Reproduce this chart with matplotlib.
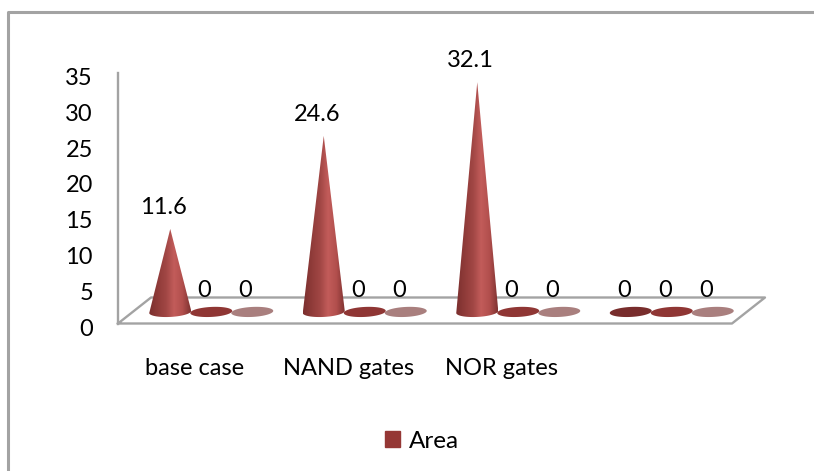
import numpy as np
import matplotlib
matplotlib.use('Agg')
import matplotlib.pyplot as plt
from matplotlib.colors import LinearSegmentedColormap
from matplotlib.lines import Line2D
from matplotlib.patches import Patch, Polygon
from matplotlib.transforms import ScaledTranslation

plt.rcParams['font.family'] = ['Lato', 'DejaVu Sans']

# The data
categories = ['base case', 'NAND gates', 'NOR gates', '']
area = [11.6, 24.6, 32.1, 0]
series_2 = [0, 0, 0, 0]
series_3 = [0, 0, 0, 0]
y_ticks = [0, 5, 10, 15, 20, 25, 30, 35]

# Colours
grey = '#a3a3a3'
legend_red = '#953735'
flat_colours = ['#782d2c', '#8f3634', '#a97f7e']
cone_map = LinearSegmentedColormap.from_list(
    'cone', ['#7b2f2e', '#8f3b39', '#a04644', '#c25c5a', '#b24f4d', '#7f3231'])

W, H = 814, 471
fig = plt.figure(figsize=(W / 100, H / 100), dpi=100)

# Front wall of the 3D box, sits on the pixel box of the original
left, right, bottom, top = 118, 732, 323.5, 73
ax = fig.add_axes([left / W, 1 - bottom / H, (right - left) / W, (bottom - top) / H])
ax.set_xlim(-0.5, 3.5)
ax.set_ylim(0, 35)
ax.patch.set_alpha(0)

px_x = 4 / (right - left)
px_y = 35 / (bottom - top)

# Floor of the box goes back this far (data units)
depth_x = 33 * px_x
depth_y = 26 * px_y
# Series spacing and cone size
step = 41 * px_x
half_w = 21 * px_x
half_h = 5 * px_y
tilt = 0.05 * (px_y / px_x)


def base_points(xc, yc, start, stop):
    t = np.linspace(start, stop, 60)
    xs = half_w * np.cos(t)
    ys = half_h * np.sin(t) + tilt * xs
    return xc + xs, yc + ys


def draw_cone(xc, yc, value):
    xs, ys = base_points(xc, yc, np.pi, 2 * np.pi)
    verts = np.column_stack([np.r_[xs, xc], np.r_[ys, yc + value]])
    clip = Polygon(verts, closed=True, transform=ax.transData, fill=False, edgecolor='none')
    ax.add_patch(clip)
    gradient = np.linspace(0, 1, 128).reshape(1, -1)
    img = ax.imshow(gradient, cmap=cone_map, aspect='auto', zorder=3,
                    extent=[xc - half_w, xc + half_w, yc - half_h * 1.2, yc + value])
    img.set_clip_path(clip)


def draw_flat(xc, yc, colour):
    xs, ys = base_points(xc, yc, 0, 2 * np.pi)
    ax.fill(xs, ys, color=colour, lw=0, zorder=3, clip_on=False)


def add_label(xc, yc, value):
    ax.annotate(f'{value:g}', (xc, yc + value), xytext=(-5, 15.5), textcoords='offset points',
                ha='center', va='center', fontsize=17, color='black', zorder=5, annotation_clip=False)


# Floor parallelogram
ax.plot([-0.5, 3.5, 3.5 + depth_x, -0.5 + depth_x, -0.5],
        [0, 0, depth_y, depth_y, 0], color=grey, lw=1.7, zorder=1, clip_on=False)
ax.set_xticks(range(len(categories)))
ax.set_xticklabels(categories, fontsize=17)
ax.set_yticks(y_ticks)
ax.tick_params(axis='x', length=0, pad=24.5)
ax.tick_params(axis='y', length=0, pad=18, labelsize=17)
# Nudge the y labels down, the original sits a little under each tick
shift_down = ScaledTranslation(0, -3.5 / 100, fig.dpi_scale_trans)
for lab in ax.get_yticklabels():
    lab.set_transform(lab.get_transform() + shift_down)
for name in ['top', 'right', 'bottom']:
    ax.spines[name].set_visible(False)
ax.spines['left'].set_color(grey)
ax.spines['left'].set_linewidth(1.7)

# Cones and the zero bars (flat discs)
y_base = depth_y / 2 - 0.2
for i in range(len(categories)):
    xc = i + depth_x / 2
    for j, vals in enumerate([area, series_2, series_3]):
        x_j = xc + (j - 1) * step
        if vals[i] > 0:
            draw_cone(x_j, y_base, vals[i])
        else:
            draw_flat(x_j, y_base, flat_colours[j])
        add_label(x_j, y_base, vals[i])

ax.set_xlim(-0.5, 3.5)
ax.set_ylim(0, 35)

# Chart border, only top and left show in the crop
fig.add_artist(Line2D([8 / W, 8 / W, 1], [0, 1 - 12 / H, 1 - 12 / H], color=grey, lw=2.2))

fig.legend(handles=[Patch(color=legend_red, label='Area')], loc='center',
           bbox_to_anchor=(422 / W, 1 - 441 / H), frameon=False, fontsize=17.5,
           handlelength=0.62, handleheight=0.62, handletextpad=0.35)

fig.savefig('out.png', dpi=100)
